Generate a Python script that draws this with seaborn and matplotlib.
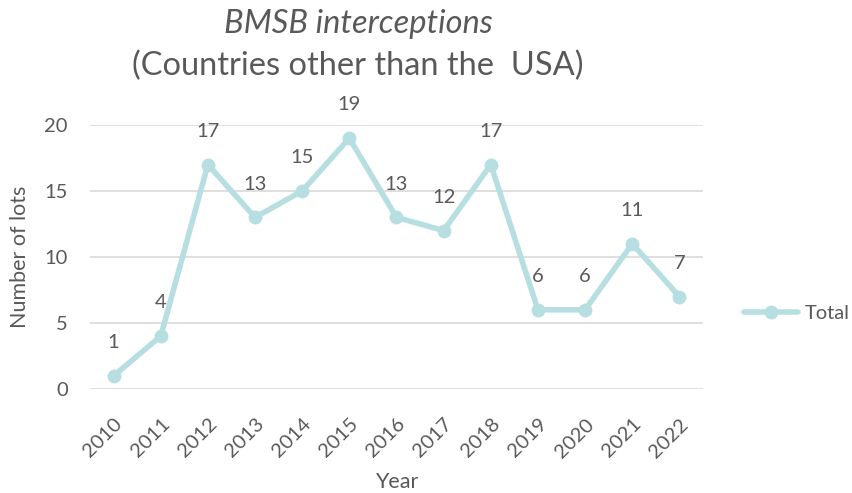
import pandas as pd
import matplotlib
matplotlib.use("Agg")
import matplotlib.pyplot as plt
import seaborn as sns

years = [2010, 2011, 2012, 2013, 2014, 2015, 2016, 2017, 2018, 2019, 2020, 2021, 2022]
lots = [1, 4, 17, 13, 15, 19, 13, 12, 17, 6, 6, 11, 7]
series_name = "Total"

line_color = "#b7dfe2"
text_color = "#595959"
grid_color = "#d9d9d9"

sns.set_theme(style="white")
plt.rcParams['font.family'] = ['Lato', 'DejaVu Sans']

df = pd.DataFrame({"Year": years, "lots": lots, "series": series_name})

fig = plt.figure(figsize=(8.53, 4.93), dpi=100)
ax = fig.add_axes([90 / 853, 1 - 389 / 493, (703 - 90) / 853, (389 - 125) / 493])

sns.lineplot(data=df, x="Year", y="lots", hue="series", palette=[line_color],
             marker="o", markersize=10, markeredgewidth=0, linewidth=4, ax=ax)

ax.set_xlim(years[0] - 0.5, years[-1] + 0.5)
ax.set_ylim(0, 20)
ax.set_yticks([0, 5, 10, 15, 20])
ax.set_xticks(years)
ax.set_xticklabels([str(y) for y in years], rotation=45, ha="right",
                   rotation_mode="anchor", color=text_color, fontsize=14.5)
ax.tick_params(axis="y", labelcolor=text_color, labelsize=14.5, length=0, pad=16)
ax.tick_params(axis="x", length=0, pad=19)
ax.yaxis.grid(True, color=grid_color, linewidth=1.2)
ax.set_axisbelow(True)
for s in ax.spines.values():
    s.set_visible(False)

for x, y in zip(years, lots):
    ax.annotate(str(y), (x, y), xytext=(0, 24), textcoords="offset points",
                ha="center", va="center", color=text_color, fontsize=14.5)

ax.set_xlabel("Year", color=text_color, fontsize=15.5, labelpad=8)
ax.set_ylabel("Number of lots", color=text_color, fontsize=15.5, labelpad=10)

handles, labels = ax.get_legend_handles_labels()
ax.legend(handles, labels, loc="center left", bbox_to_anchor=(744 / 853, 1 - 313 / 493),
          bbox_transform=fig.transFigure, frameon=False, fontsize=14.5, borderpad=0,
          borderaxespad=0, labelcolor=text_color, handlelength=2.7, handletextpad=0.3)

fig.text(358 / 853, 1 - 33 / 493, "BMSB interceptions", ha="center", va="baseline",
         fontsize=23.5, style="italic", color=text_color)
fig.text(358 / 853, 1 - 75 / 493, "(Countries other than the  USA)", ha="center", va="baseline",
         fontsize=23.5, color=text_color)

fig.savefig("out.png", dpi=100)
